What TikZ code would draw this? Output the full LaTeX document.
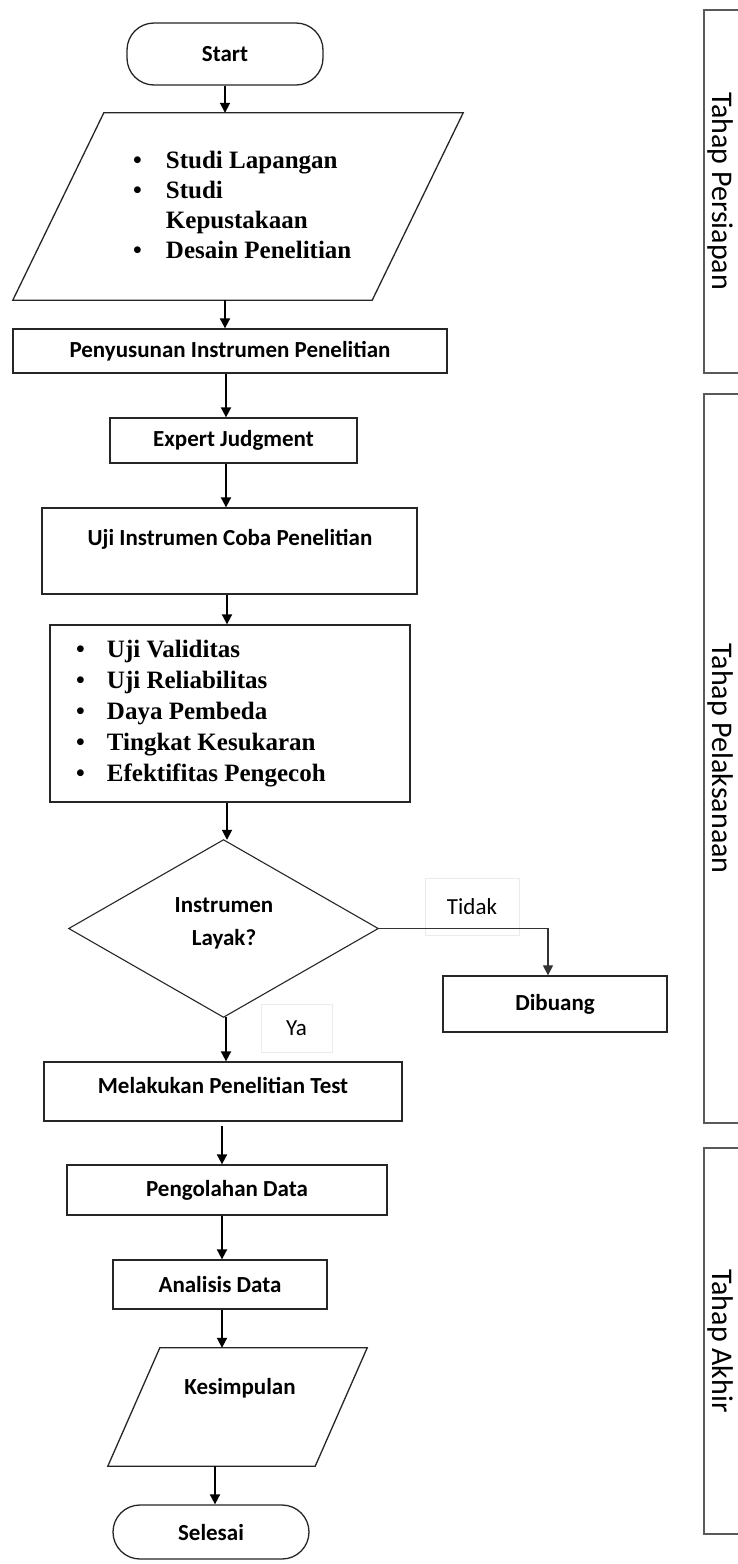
\documentclass[tikz,border=0pt]{standalone}
\usepackage{fontspec}
\setmainfont{Liberation Serif}
\newfontfamily\calfont{Carlito}
\usetikzlibrary{arrows.meta,calc}
\newcommand\bxfont{\calfont\bfseries\fontsize{23}{28}\selectfont}
\newcommand\lbfont{\calfont\fontsize{23}{28}\selectfont}
\newcommand\phfont{\calfont\fontsize{30}{36}\selectfont}
\begin{document}
\begin{tikzpicture}[x=1pt,y=-1pt,
  shapeline/.style={draw=black!85, line width=1.3pt},
  box/.style={shapeline, rectangle, inner sep=0pt, font=\bxfont},
  holder/.style={rectangle, inner sep=0pt},
  term/.style={shapeline, rectangle, rounded corners=27pt, inner sep=0pt, font=\bxfont},
  txt/.style={inner sep=0pt, font=\bxfont},
  faint/.style={draw=black!8, line width=0.8pt, inner sep=0pt, font=\lbfont},
  arr/.style={-{Triangle[width=10pt,length=10pt]}, line width=1.8pt, black},
  thinarr/.style={-{Triangle[width=10pt,length=10pt]}, line width=1.2pt, black!80},
  phase/.style={draw=black!65, line width=2.2pt},
  phtxt/.style={rotate=-90, inner sep=0pt, font=\phfont}
]
\fill[white] (0,0) rectangle (738,1564);
\useasboundingbox (0,0) rectangle (738,1564);

% terminators
\node[term, minimum width=196pt, minimum height=62pt] (start) at (225,54) {Start};

% parallelogram 1
\node[holder, minimum width=450pt, minimum height=187pt] (p1) at (238,206.5) {};
\draw[shapeline] ([xshift=91pt]p1.north west) -- (p1.north east) -- ([xshift=-91pt]p1.south east) -- (p1.south west) -- cycle;
\node[inner sep=0pt, anchor=west, font=\fontsize{25}{30}\selectfont\bfseries] (p1t) at (133,207.5) {%
\begin{tabular}{@{}l@{\hspace{24pt}}l@{}}
\textbullet & Studi Lapangan\\
\textbullet & Studi\\
 & Kepustakaan\\
\textbullet & Desain Penelitian
\end{tabular}};

\node[box, minimum width=434pt, minimum height=44pt] (pen) at (230,351) {Penyusunan Instrumen Penelitian};
\node[box, minimum width=247pt, minimum height=45pt] (exp) at (233.5,440.5) {Expert Judgment};
\node[box, minimum width=375pt, minimum height=86pt] (uji) at (229.5,551) {};
\node[txt] (ujit) at (230,539) {Uji Instrumen Coba Penelitian};

\node[box, minimum width=360pt, minimum height=177pt] (tests) at (230,713.5) {};
\node[inner sep=0pt, anchor=west, font=\fontsize{25}{31}\selectfont\bfseries] (testst) at (76,713.5) {%
\begin{tabular}{@{}l@{\hspace{22pt}}l@{}}
\textbullet & Uji Validitas\\
\textbullet & Uji Reliabilitas\\
\textbullet & Daya Pembeda\\
\textbullet & Tingkat Kesukaran\\
\textbullet & Efektifitas Pengecoh
\end{tabular}};

% decision
\node[holder, minimum width=309pt, minimum height=177pt] (dec) at (223.5,928.5) {};
\draw[shapeline, line width=1.1pt] (dec.north) -- (dec.east) -- (dec.south) -- (dec.west) -- cycle;
\node[txt, align=center, font=\calfont\bfseries\fontsize{23}{33}\selectfont] (dect) at (224,923.5) {Instrumen\\Layak?};

\node[faint, minimum width=94pt, minimum height=57pt] (tidak) at (472,906.5) {Tidak};
\node[box, minimum width=224pt, minimum height=56pt] (dib) at (555,1004) {Dibuang};
\node[faint, minimum width=71pt, minimum height=48pt] (ya) at (296.5,1028) {Ya};

\node[box, minimum width=358pt, minimum height=59pt] (mel) at (223,1091.5) {};
\node[txt] (melt) at (223,1085) {Melakukan Penelitian Test};
\node[box, minimum width=320pt, minimum height=50pt] (peng) at (227,1190) {Pengolahan Data};
\node[box, minimum width=214pt, minimum height=49pt] (ana) at (220,1284.5) {Analisis Data};

% parallelogram 2
\node[holder, minimum width=259pt, minimum height=118pt] (kes) at (237.5,1407) {};
\draw[shapeline] ([xshift=52pt]kes.north west) -- (kes.north east) -- ([xshift=-52pt]kes.south east) -- (kes.south west) -- cycle;
\node[txt] (kest) at (240,1388) {Kesimpulan};

\node[term, minimum width=196pt, minimum height=54pt] (sel) at (211,1532) {Selesai};

% connectors
\draw[arr] (start.south) -- (start.south |- p1.north);
\draw[arr] (start.south |- p1.south) -- (start.south |- pen.north);
\draw[arr] ([xshift=-4pt]pen.south) -- ([xshift=-4pt]pen.south |- exp.north);
\draw[arr] ([xshift=-7.5pt]exp.south) -- ([xshift=-7.5pt]exp.south |- uji.north);
\draw[arr] ([xshift=-2.5pt]uji.south) -- ([xshift=-2.5pt]uji.south |- tests.north);
\draw[arr] ([xshift=-3pt]tests.south) -- ([xshift=-3pt]tests.south |- dec.north);
\draw[arr] ([xshift=2.5pt]dec.south) -- ([xshift=2.5pt]dec.south |- mel.north);
\draw[thinarr] (dec.east) -| ([xshift=-7pt]dib.north);
\draw[arr] ([xshift=-1pt,yshift=-4pt]mel.south) -- ([xshift=-1pt]mel.south |- peng.north);
\draw[arr] ([xshift=-5pt]peng.south) -- ([xshift=-5pt]peng.south |- ana.north);
\draw[arr] ([xshift=2pt]ana.south) -- ([xshift=2pt]ana.south |- kes.north);
\draw[arr] ([xshift=4pt]sel.north |- kes.south) -- ([xshift=4pt]sel.north);

% phase brackets
\draw[phase] (738,10) -- (704,10) -- (704,373) -- (738,373);
\draw[phase] (738,394) -- (704,394) -- (704,1123) -- (738,1123);
\draw[phase] (738,1148) -- (704,1148) -- (704,1534) -- (738,1534);
\node[phtxt] (ph1) at (720,191) {Tahap Persiapan};
\node[phtxt] (ph2) at (720,758.5) {Tahap Pelaksanaan};
\node[phtxt] (ph3) at (720,1341) {Tahap Akhir};
\end{tikzpicture}
\end{document}
